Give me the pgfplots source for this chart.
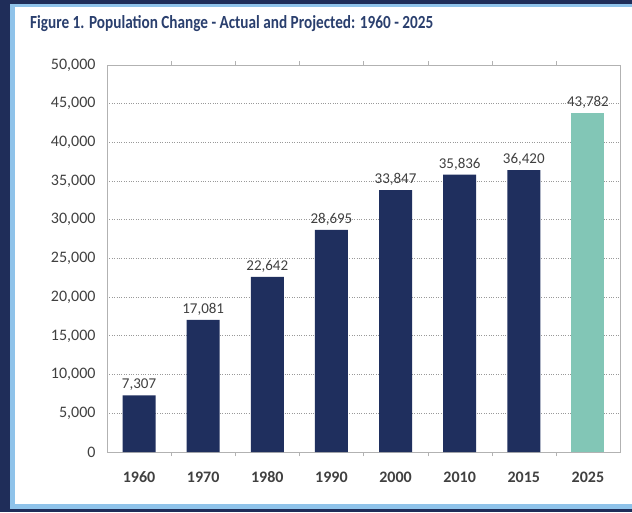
\documentclass[border=0pt]{standalone}
\usepackage{fontspec}
\setmainfont{Carlito}
\usepackage{graphicx}
\usepackage{pgfplots}
\pgfplotsset{compat=1.18}
\definecolor{frame}{HTML}{1F2D59}
\definecolor{lblue}{HTML}{8FC3EA}
\definecolor{navy}{HTML}{1F2F5E}
\definecolor{ttl}{HTML}{2A3F6E}
\definecolor{teal}{HTML}{82C6B6}
\definecolor{txt}{HTML}{404040}
\begin{document}
\begin{tikzpicture}[x=1pt,y=1pt]
\useasboundingbox (0,0) rectangle (632,512);
\fill[frame] (0,0) rectangle (632,512);
\fill[lblue] (10,3) rectangle (632,508);
\fill[white] (15,8) rectangle (632,505);
\node[anchor=west,text=ttl,inner sep=0pt] at (30,488) {\resizebox{403pt}{13pt}{\bfseries Figure 1. Population Change - Actual and Projected: 1960 - 2025}};
\begin{axis}[
  at={(107pt,60pt)}, anchor=south west,
  scale only axis, width=513pt, height=387pt,
  xmin=-0.5, xmax=7.5, ymin=0, ymax=50000,
  ytick={0,5000,...,50000},
  scaled y ticks=false,
  xtick={0,...,7},
  xticklabels={1960,1970,1980,1990,2000,2010,2015,2025},
  minor xtick={0.5,1.5,...,6.5},
  axis line style={draw=black!30},
  major tick length=0pt,
  minor tick length=4pt,
  minor tick style={draw=black!30},
  tick align=outside,
  ymajorgrids,
  major grid style={dotted, draw=black!40, line width=0.9pt},
  /pgf/number format/.cd, 1000 sep={,}, assume math mode=true,
  /pgfplots/.cd,
  yticklabel style={font=\fontsize{16}{18}\selectfont, text=txt, xshift=-8pt},
  xticklabel style={font=\fontsize{16}{18}\selectfont\bfseries, text=txt, yshift=-16pt},
  ybar, bar width=33pt, bar shift=0pt,
  nodes near coords,
  every node near coord/.append style={font=\fontsize{15}{17}\selectfont, text=txt, yshift=1pt},
]
\addplot[fill=navy, draw=none] coordinates {(0,7307) (1,17081) (2,22642) (3,28695) (4,33847) (5,35836) (6,36420)};
\addplot[fill=teal, draw=none] coordinates {(7,43782)};
\end{axis}
\end{tikzpicture}
\end{document}
